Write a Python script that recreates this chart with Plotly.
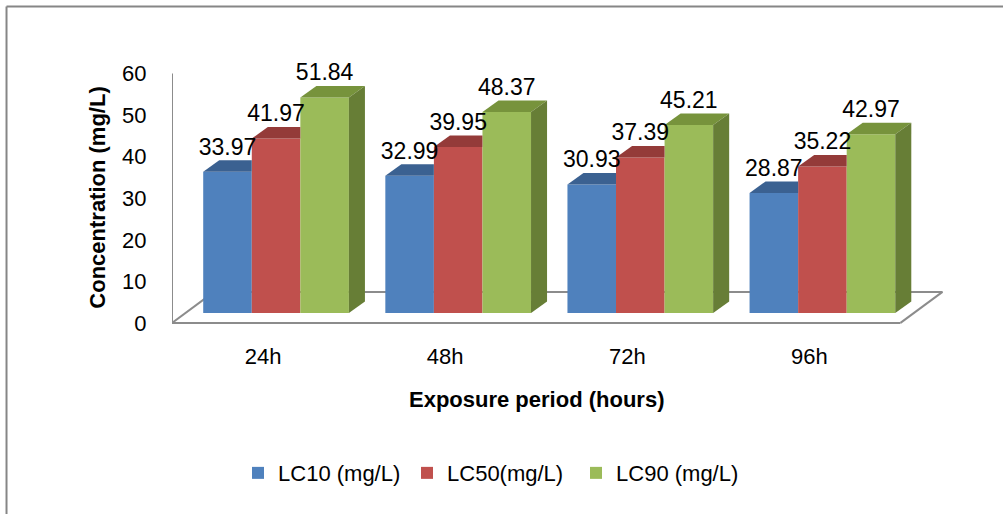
import plotly.graph_objects as go

# ---- data ----
categories = ["24h", "48h", "72h", "96h"]
series_names = ["LC10 (mg/L)", "LC50(mg/L)", "LC90 (mg/L)"]
lc10 = [33.97, 32.99, 30.93, 28.87]
lc50 = [41.97, 39.95, 37.39, 35.22]
lc90 = [51.84, 48.37, 45.21, 42.97]
y_ticks = [0, 10, 20, 30, 40, 50, 60]

series = [lc10, lc50, lc90]
front_colors = ["#4F81BD", "#C0504D", "#9BBB59"]
top_colors = ["#3B6191", "#943B39", "#77933C"]
side_colors = ["#385D8A", "#8C3836", "#677E36"]

# ---- 3D projection parameters (in axis units) ----
W = 0.8 / 3          # bar width
SHIFT = 0.0714       # bars sit mid-depth: shifted right
LIFT = 2.41          # ... and lifted
DX, DY = 0.088, 2.77         # bar depth offset
FDX, FDY = 0.2308, 7.47      # floor depth offset
X_MIN, X_MAX = -0.5, len(categories) - 0.5
FONT = "Liberation Sans, Arial, sans-serif"

fig = go.Figure()

# front faces (bars)
bar_geo = []
for i, (vals, name) in enumerate(zip(series, series_names)):
    xs = [k + SHIFT + (i - 1) * W for k in range(len(categories))]
    fig.add_trace(go.Bar(
        x=xs, y=vals, base=[LIFT] * len(vals), width=W, name=name,
        marker=dict(color=front_colors[i], line=dict(width=0)),
        hoverinfo="skip",
    ))
    bar_geo.append(xs)

# top and side faces, drawn in order so nearer bars occlude
for k in range(len(categories)):
    for i in range(len(series)):
        xc = bar_geo[i][k]
        x0, x1 = xc - W / 2, xc + W / 2
        b = LIFT
        t = LIFT + series[i][k]
        nxt = series[i + 1][k] + LIFT if i + 1 < len(series) else None
        if nxt is not None and nxt >= t + DY:
            tx = [x0, x0 + DX, x1, x1, x0]
            ty = [t, t + DY, t + DY, t, t]
        else:
            tx = [x0, x0 + DX, x1 + DX, x1, x0]
            ty = [t, t + DY, t + DY, t, t]
        fig.add_trace(go.Scatter(x=tx, y=ty, fill="toself", mode="lines",
                                 fillcolor=top_colors[i], line=dict(width=0),
                                 showlegend=False, hoverinfo="skip"))
        if nxt is None or nxt < t:
            sx = [x1, x1 + DX, x1 + DX, x1, x1]
            sy = [b, b + DY, t + DY, t, b]
            fig.add_trace(go.Scatter(x=sx, y=sy, fill="toself", mode="lines",
                                     fillcolor=side_colors[i], line=dict(width=0),
                                     showlegend=False, hoverinfo="skip"))

# data labels
lx, ly, lt = [], [], []
for i in range(len(series)):
    for k in range(len(categories)):
        lx.append(bar_geo[i][k])
        ly.append(LIFT + series[i][k] + DY)
        lt.append(f"{series[i][k]:.2f}")
fig.add_trace(go.Scatter(x=lx, y=ly, text=lt, mode="text", textposition="top center",
                         textfont=dict(family=FONT, size=23, color="#000000"),
                         showlegend=False, hoverinfo="skip", cliponaxis=False))

# floor and value axis line
gray = "#8C8C8C"
floor = [
    (X_MIN, 0, X_MAX, 0),
    (X_MAX, 0, X_MAX + FDX, FDY),
    (X_MIN + FDX, FDY, X_MAX + FDX, FDY),
    (X_MIN, 0, X_MIN + FDX, FDY),
    (X_MIN, 0, X_MIN, y_ticks[-1]),
]
for (a, b_, c, d) in floor:
    fig.add_shape(type="line", x0=a, y0=b_, x1=c, y1=d, xref="x", yref="y",
                  line=dict(color=gray, width=2), layer="below")

# outer border (top and left)
fig.add_shape(type="line", xref="paper", yref="paper", x0=-0.2138, y0=1.188, x1=1.08, y1=1.188,
              line=dict(color="#868686", width=2))
fig.add_shape(type="line", xref="paper", yref="paper", x0=-0.2138, y0=1.188, x1=-0.2138, y1=-0.72,
              line=dict(color="#868686", width=2))

# titles
fig.add_annotation(text="<b>Exposure period (hours)</b>", xref="paper", yref="paper",
                   x=0.4706, y=-0.2798, xanchor="center", yanchor="middle", showarrow=False,
                   font=dict(family=FONT, size=22, color="#000000"))
fig.add_annotation(text="<b>Concentration (mg/L)</b>", xref="paper", yref="paper",
                   x=-0.0957, y=0.4748, xanchor="center", yanchor="middle", showarrow=False,
                   textangle=-90, font=dict(family=FONT, size=22, color="#000000"))

fig.update_layout(
    width=1003, height=514,
    margin=dict(l=172, r=57, t=57, b=189),
    barmode="overlay",
    plot_bgcolor="white", paper_bgcolor="white",
    font=dict(family=FONT, size=22, color="#000000"),
    showlegend=True,
    legend=dict(orientation="h", x=0.0853, y=-0.5525, xanchor="left", yanchor="middle",
                entrywidth=124, entrywidthmode="pixels",
                font=dict(family=FONT, size=22, color="#000000"),
                bgcolor="rgba(0,0,0,0)"),
    xaxis=dict(range=[X_MIN, 3.75], tickvals=list(range(len(categories))), ticktext=categories,
               showgrid=False, zeroline=False, showline=False,
               ticks="outside", ticklen=12, tickcolor="rgba(0,0,0,0)",
               tickfont=dict(family=FONT, size=22)),
    yaxis=dict(range=[-0.5, 64], tickvals=y_ticks, showgrid=False, zeroline=False, showline=False,
               ticks="outside", ticklen=20, tickcolor="rgba(0,0,0,0)",
               tickfont=dict(family=FONT, size=22)),
)

fig.write_html("out.html", config={"displayModeBar": False},
               post_script="document.body.style.margin='0';")
